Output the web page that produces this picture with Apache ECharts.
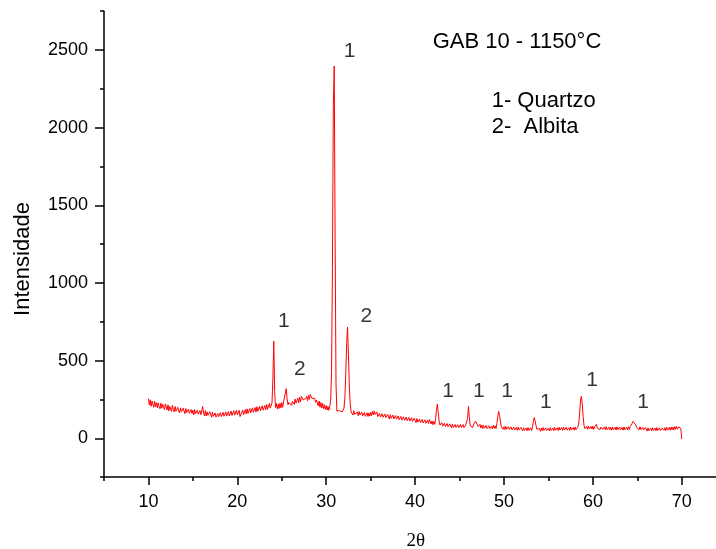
<!DOCTYPE html>
<html>
<head>
<meta charset="utf-8">
<script src="https://cdn.jsdelivr.net/npm/echarts@6/dist/echarts.min.js"></script>
<style>
html,body{margin:0;padding:0;background:#fff;}
#chart{width:716px;height:549px;}
</style>
</head>
<body>
<div id="chart"></div>
<script>
// 2θ sampling grid (degrees)
const twoThetaStart = 10;
const twoThetaStep = 0.1;
// Intensity, one row per degree (10.0 ... 70.0)
const intensity = [
  255, 214, 248, 206, 240, 221, 199, 238, 205, 229,
  196, 228, 203, 190, 226, 194, 219, 200, 185, 221,
  209, 182, 216, 176, 205, 199, 173, 212, 184, 170,
  205, 174, 168, 199, 176, 163, 196, 171, 160, 194,
  186, 158, 192, 165, 154, 188, 161, 150, 185, 160,
  181, 150, 184, 158, 146, 180, 155, 145, 178, 152,
  176, 205, 160, 145, 178, 143, 170, 148, 139, 171,
  160, 135, 168, 141, 130, 163, 136, 128, 160, 139,
  133, 165, 140, 134, 167, 142, 135, 170, 143, 136,
  172, 144, 139, 175, 147, 140, 178, 149, 143, 180,
  152, 147, 180, 140, 128, 168, 182, 151, 148, 185,
  157, 189, 160, 154, 192, 164, 158, 196, 167, 161,
  198, 169, 203, 174, 167, 206, 178, 171, 209, 181,
  175, 211, 183, 217, 187, 182, 224, 194, 190, 228,
  380, 625, 300, 198, 224, 188, 219, 192, 226, 196,
  229, 199, 236, 228, 290, 320, 252, 216, 230, 218,
  232, 212, 238, 230, 218, 252, 226, 240, 258, 228,
  263, 234, 270, 280, 248, 260, 244, 256, 270, 242,
  276, 250, 282, 286, 256, 265, 250, 258, 232, 246,
  238, 209, 240, 200, 230, 195, 224, 190, 216, 186,
  210, 182, 205, 180, 205, 241, 430, 1100, 2150, 2397,
  1300, 350, 175, 182, 170, 178, 166, 186, 170, 180,
  195, 260, 420, 610, 715, 540, 330, 220, 170, 176,
  150, 178, 154, 165, 148, 170, 145, 172, 150, 142,
  168, 144, 138, 166, 141, 135, 164, 140, 163, 143,
  168, 146, 172, 150, 176, 153, 142, 170, 140, 133,
  160, 137, 131, 158, 135, 130, 156, 133, 127, 153,
  147, 124, 152, 128, 121, 149, 125, 119, 146, 123,
  117, 144, 120, 114, 141, 118, 111, 138, 115, 109,
  136, 113, 107, 134, 111, 105, 132, 109, 103, 129,
  123, 101, 127, 104, 98, 124, 101, 96, 121, 99,
  93, 119, 96, 90, 116, 95, 120, 113, 92, 111,
  88, 108, 90, 120, 180, 220, 168, 110, 85, 93,
  101, 78, 73, 97, 76, 70, 95, 74, 69, 93,
  86, 67, 91, 70, 65, 89, 69, 63, 87, 68,
  80, 89, 69, 64, 88, 68, 63, 86, 82, 128,
  205, 135, 80, 72, 90, 70, 92, 95, 110, 120,
  98, 76, 70, 90, 66, 85, 63, 83, 65, 61,
  82, 63, 59, 80, 62, 57, 78, 60, 84, 64,
  80, 62, 95, 140, 173, 148, 105, 72, 63, 58,
  75, 56, 77, 58, 53, 75, 56, 51, 73, 54,
  50, 72, 53, 48, 70, 51, 72, 54, 49, 70,
  64, 47, 68, 50, 45, 66, 49, 69, 51, 46,
  67, 49, 72, 108, 133, 112, 82, 58, 50, 68,
  62, 45, 66, 49, 69, 51, 46, 67, 50, 44,
  65, 48, 68, 50, 45, 66, 49, 70, 52, 47,
  67, 50, 71, 53, 48, 69, 51, 72, 54, 49,
  70, 52, 47, 68, 51, 72, 54, 49, 69, 52,
  73, 55, 50, 71, 88, 150, 240, 270, 225, 140,
  84, 62, 55, 76, 58, 79, 60, 54, 76, 59,
  78, 58, 75, 78, 90, 65, 57, 74, 55, 72,
  76, 57, 52, 73, 55, 75, 56, 51, 72, 54,
  70, 52, 73, 55, 50, 71, 53, 74, 56, 51,
  72, 54, 49, 70, 52, 73, 55, 50, 71, 54,
  74, 56, 76, 80, 95, 108, 116, 104, 88, 72,
  78, 60, 54, 74, 56, 51, 71, 53, 48, 69,
  63, 46, 67, 49, 44, 65, 48, 68, 50, 45,
  66, 48, 69, 51, 46, 67, 50, 44, 65, 70,
  51, 68, 50, 71, 53, 48, 69, 52, 73, 55,
  72, 54, 75, 57, 78, 59, 53, 74, 80, 61,
  -5
];

// Axis ticks
const xMajorTicks = [10, 20, 30, 40, 50, 60, 70];
const xMinorTicks = [5, 15, 25, 35, 45, 55, 65];
const yMajorTicks = [0, 500, 1000, 1500, 2000, 2500];
const yMinorTicks = [-250, 250, 750, 1250, 1750, 2250, 2750];

// Peak annotations (2θ, intensity, text)
const peakLabelX = [25.22, 27.02, 32.62, 34.52, 43.71, 47.16, 50.34, 54.70, 59.90, 65.64];
const peakLabelY = [755, 446, 2495, 787, 306, 306, 306, 232, 375, 232];
const peakLabelText = ['1', '2', '1', '2', '1', '1', '1', '1', '1', '1'];

const titleText = 'GAB 10 - 1150°C';
const legendLines = ['1- Quartzo', '2-  Albita'];
const xName = '2θ';
const yName = 'Intensidade';

const lineData = intensity.map((v, i) => [+(twoThetaStart + i * twoThetaStep).toFixed(2), v]);
const labelData = peakLabelX.map((x, i) => ({ value: [x, peakLabelY[i]], name: peakLabelText[i] }));

const FONT = "'Liberation Sans', Arial, sans-serif";
const axisLineStyle = { color: '#000', width: 1.5 };
const plainNum = v => String(v);

const chart = echarts.init(document.getElementById('chart'), null, { renderer: 'canvas' });
chart.setOption({
  animation: false,
  backgroundColor: '#fff',
  grid: { left: 104, top: 11.2, right: 0, bottom: 71.9, containLabel: false },
  xAxis: [
    {
      type: 'value', min: 5, max: 73.85, position: 'bottom',
      axisLine: { show: true, onZero: false, lineStyle: axisLineStyle },
      axisTick: { show: true, inside: false, length: 8, lineStyle: { color: '#000', width: 1.5 }, customValues: xMajorTicks },
      axisLabel: { show: true, margin: 16, fontSize: 18, color: '#000', fontFamily: FONT, customValues: xMajorTicks, formatter: plainNum },
      splitLine: { show: false }
    },
    {
      type: 'value', min: 5, max: 73.85, position: 'bottom', gridIndex: 0,
      axisLine: { show: false, onZero: false },
      axisTick: { show: true, inside: false, length: 4, lineStyle: { color: '#000', width: 1.5 }, customValues: xMinorTicks },
      axisLabel: { show: false },
      splitLine: { show: false }
    }
  ],
  yAxis: [
    {
      type: 'value', min: -250, max: 2750, position: 'left',
      axisLine: { show: true, onZero: false, lineStyle: axisLineStyle },
      axisTick: { show: true, inside: false, length: 9, lineStyle: { color: '#000', width: 1.5 }, customValues: yMajorTicks },
      axisLabel: { show: true, margin: 16, fontSize: 18, color: '#000', fontFamily: FONT, customValues: yMajorTicks, formatter: plainNum },
      splitLine: { show: false }
    },
    {
      type: 'value', min: -250, max: 2750, position: 'left', gridIndex: 0,
      axisLine: { show: false, onZero: false },
      axisTick: { show: true, inside: false, length: 4, lineStyle: { color: '#000', width: 1.5 }, customValues: yMinorTicks },
      axisLabel: { show: false },
      splitLine: { show: false }
    }
  ],
  series: [
    {
      type: 'line', data: lineData, showSymbol: false, symbol: 'none',
      lineStyle: { color: '#ff0000', width: 1 }, silent: true, clip: true
    },
    {
      type: 'scatter', data: labelData, symbolSize: 1,
      itemStyle: { color: 'rgba(0,0,0,0)' }, silent: true,
      label: { show: true, position: 'inside', formatter: p => p.name, fontSize: 21, color: '#000', fontFamily: FONT }
    }
  ],
  graphic: [
    { type: 'text', x: 517, y: 41.7, style: { text: titleText, fontSize: 22, fontFamily: FONT, fill: '#000', align: 'center', verticalAlign: 'middle' } },
    { type: 'text', x: 491.7, y: 100.7, style: { text: legendLines[0], fontSize: 22, fontFamily: FONT, fill: '#000', align: 'left', verticalAlign: 'middle' } },
    { type: 'text', x: 491.7, y: 126.7, style: { text: legendLines[1], fontSize: 22, fontFamily: FONT, fill: '#000', align: 'left', verticalAlign: 'middle' } },
    { type: 'text', x: 23.3, y: 259, rotation: Math.PI / 2, style: { text: yName, fontSize: 22, fontFamily: FONT, fill: '#000', align: 'center', verticalAlign: 'middle' } },
    { type: 'text', x: 415.7, y: 540.7, style: { text: xName, fontSize: 19, fontFamily: "'Liberation Serif', 'Times New Roman', serif", fill: '#000', align: 'center', verticalAlign: 'middle' } }
  ]
});
</script>
</body>
</html>
